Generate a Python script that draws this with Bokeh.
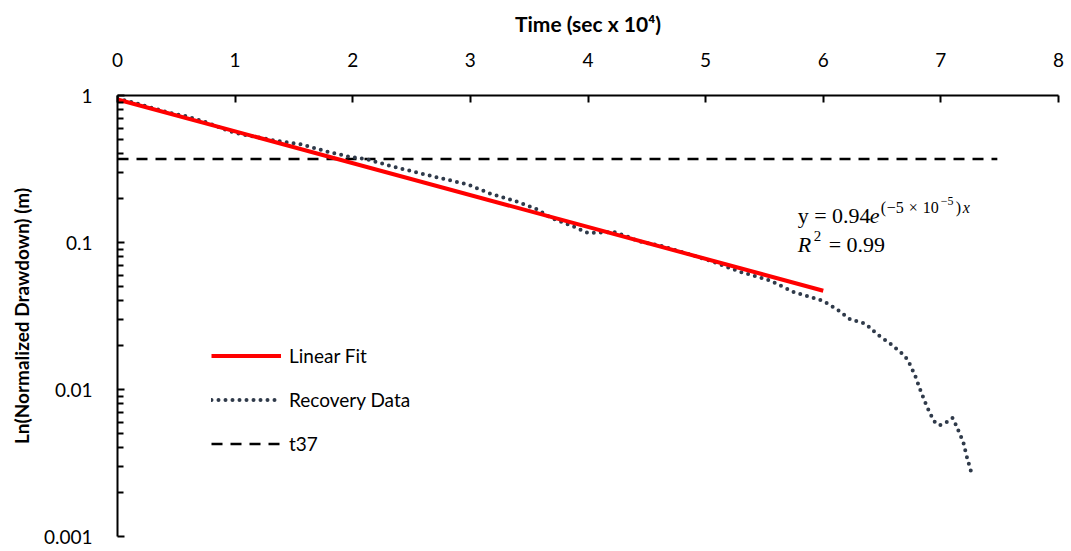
from bokeh.plotting import figure
from bokeh.models import (FixedTicker, Legend, LegendItem, Label, Range1d,
                          BasicTickFormatter)
from bokeh.embed import file_html
from bokeh.resources import INLINE

# ---------------- data ----------------
recovery_x = [0.00, 0.14, 0.28, 0.42, 0.59, 0.76, 0.93, 1.05, 1.19, 1.33,
              1.56, 1.81, 1.96, 2.13, 2.30, 2.64, 2.98, 3.17, 3.37, 3.57,
              3.68, 3.88, 4.00, 4.22, 4.36, 4.43, 4.62, 5.02, 5.30, 5.55,
              5.75, 6.00, 6.12, 6.23, 6.36, 6.46, 6.57, 6.68, 6.72, 6.78,
              6.83, 6.88, 6.94, 6.99, 7.05, 7.10, 7.13, 7.19, 7.22, 7.26]
recovery_y = [0.95, 0.895, 0.83, 0.77, 0.72, 0.655, 0.58, 0.545, 0.52, 0.495,
              0.465, 0.41, 0.385, 0.367, 0.335, 0.287, 0.248, 0.215, 0.193, 0.168,
              0.148, 0.128, 0.116, 0.118, 0.108, 0.102, 0.095, 0.076, 0.063, 0.055,
              0.046, 0.040, 0.035, 0.030, 0.028, 0.0237, 0.0205, 0.0173, 0.0158, 0.0125,
              0.0097, 0.0077, 0.0061, 0.0057, 0.0060, 0.0064, 0.0057, 0.0044, 0.0035, 0.0027]

fit_x = [0.0, 6.0]
fit_y = [0.94, 0.047]

t37_x = [0.0, 7.48]
t37_y = [0.37, 0.37]

x_ticks = [0, 1, 2, 3, 4, 5, 6, 7, 8]
y_ticks = [0.001, 0.01, 0.1, 1]
y_tick_labels = ["0.001", "0.01", "0.1", "1"]
y_minor = [m * d for d in [0.001, 0.01, 0.1] for m in range(2, 10)]

series_names = ["Linear Fit", "Recovery Data", "t37"]
x_title = "Time (sec x 10\u2074)"
y_title = "Ln(Normalized Drawdown) (m)"

FONT = "Lato"
MATH = "Liberation Serif"

p = figure(width=1071, height=551, output_backend="svg", toolbar_location=None,
           x_axis_location="above", y_axis_type="log",
           x_range=Range1d(0, 8), y_range=Range1d(0.001, 1),
           min_border_left=117, min_border_right=13, min_border_top=95,
           min_border_bottom=15)
p.outline_line_color = None
p.xgrid.visible = False
p.ygrid.visible = False
p.background_fill_color = "white"
p.border_fill_color = "white"

# x axis (top)
xa = p.xaxis[0]
xa.ticker = FixedTicker(ticks=x_ticks)
xa.axis_label = x_title
xa.axis_label_text_font = FONT
xa.axis_label_text_font_style = "bold"
xa.axis_label_text_font_size = "21px"
xa.axis_label_text_color = "black"
xa.axis_label_standoff = 14
xa.major_label_text_font = FONT
xa.major_label_text_font_size = "19px"
xa.major_label_text_color = "black"
xa.major_label_standoff = 29
xa.axis_line_width = 2
xa.axis_line_color = "black"
xa.major_tick_in = 7
xa.major_tick_out = 0
xa.major_tick_line_width = 2
xa.major_tick_line_color = "black"
xa.minor_tick_line_color = None

# y axis (left)
ya = p.yaxis[0]
ya.ticker = FixedTicker(ticks=y_ticks, minor_ticks=y_minor)
ya.formatter = BasicTickFormatter()
ya.major_label_overrides = {t: l for t, l in zip(y_ticks, y_tick_labels)}
ya.axis_label = y_title
ya.axis_label_text_font = FONT
ya.axis_label_text_font_style = "bold"
ya.axis_label_text_font_size = "19px"
ya.axis_label_text_color = "black"
ya.axis_label_standoff = 8
ya.major_label_text_font = FONT
ya.major_label_text_font_size = "19px"
ya.major_label_text_color = "black"
ya.major_label_standoff = 25
ya.axis_line_width = 2
ya.axis_line_color = "black"
ya.major_tick_in = 7
ya.major_tick_out = 0
ya.major_tick_line_width = 2
ya.major_tick_line_color = "black"
ya.minor_tick_in = 6
ya.minor_tick_out = 0
ya.minor_tick_line_width = 2
ya.minor_tick_line_color = "black"

# series
r_t37 = p.line(t37_x, t37_y, line_color="black", line_width=2.5, line_dash="11 8")
r_rec = p.line(recovery_x, recovery_y, line_color="#2F3A4A", line_width=4,
               line_dash="0 7", line_cap="round", line_join="round")
r_fit = p.line(fit_x, fit_y, line_color="#FF0000", line_width=4)

legend = Legend(items=[LegendItem(label=series_names[0], renderers=[r_fit]),
                       LegendItem(label=series_names[1], renderers=[r_rec]),
                       LegendItem(label=series_names[2], renderers=[r_t37])],
                location=(94, 80), orientation="vertical",
                glyph_width=70, glyph_height=25, label_height=25,
                label_standoff=8, spacing=19, padding=0, margin=0,
                border_line_color=None, background_fill_alpha=0,
                label_text_font=FONT, label_text_font_size="19px",
                label_text_color="black")
p.add_layout(legend)

# equation annotation (positions converted from pixel layout)
def dx(px):
    return (px - 117) / 117.6

def dy(py):
    return 10 ** (-(py - 95) / 147.0)

def lab(text, px, py, size, style="normal"):
    p.add_layout(Label(x=dx(px), y=dy(py), text=text, text_font=MATH,
                       text_font_size=size, text_font_style=style,
                       text_color="black", text_baseline="alphabetic",
                       text_align="left"))

lab("y = 0.94", 797, 215, "22px")
lab("e", 869, 215, "22px", "italic")
lab("(", 880, 207, "16px")
lab("\u22125", 886, 207, "16px")
lab("\u00d7", 908, 207, "16px")
lab("10", 922, 207, "16px")
lab("\u22125", 940, 200, "12px")
lab(")", 955, 207, "16px")
lab("x", 962, 207, "16px", "italic")
lab("R", 797, 244, "22px", "italic")
lab("2", 813, 235, "15px")
lab("= 0.99", 828, 244, "22px")

open("out.html", "w").write(file_html(p, INLINE))
